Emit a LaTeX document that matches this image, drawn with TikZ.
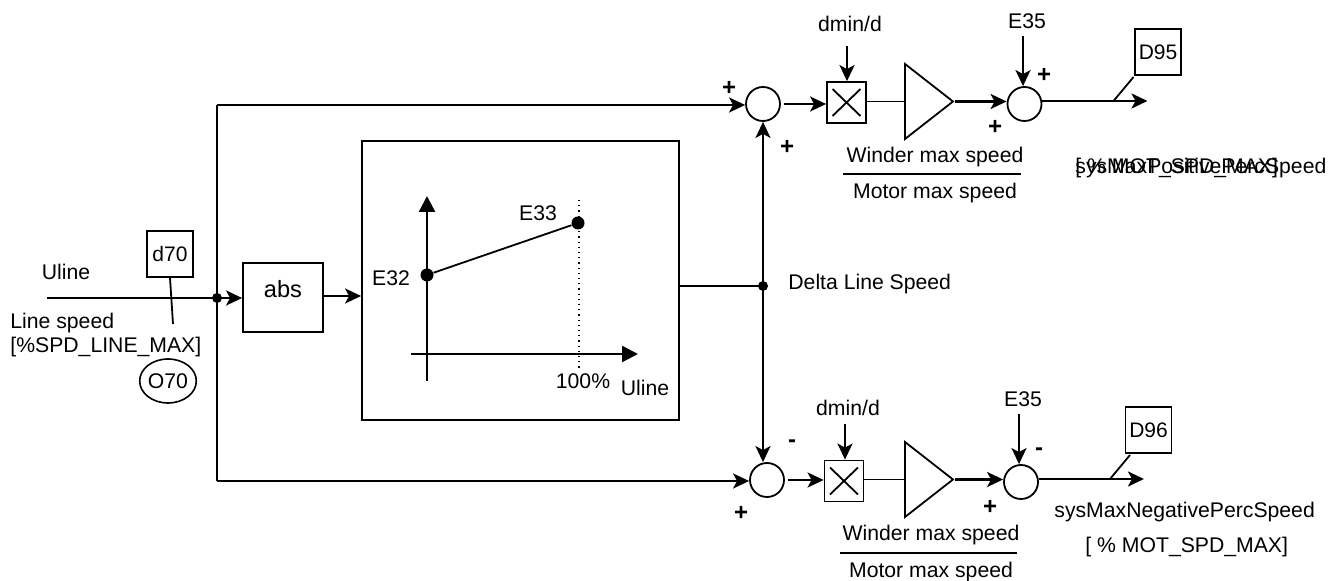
\documentclass[tikz,border=0pt]{standalone}
\usepackage{fontspec}
\setmainfont{Liberation Sans}
\usetikzlibrary{arrows.meta, calc, shapes.geometric}

\tikzset{
  sig/.style={line width=1.2pt, -{Stealth[length=8pt, width=7.5pt, inset=2pt]}},
  wire/.style={line width=0.9pt},
  axis/.style={line width=1.2pt, -{Triangle[length=8pt, width=8pt]}},
  lbl/.style={inner sep=0pt, font=\fontsize{10.6}{12}\selectfont},
  regbox/.style={draw, line width=0.8pt, inner sep=0pt, minimum width=23pt, minimum height=23pt, font=\fontsize{10.5}{12}\selectfont},
  sumnode/.style={draw, circle, line width=0.9pt, inner sep=0pt, minimum size=17pt},
  mulbox/.style={draw, line width=0.9pt, inner sep=0pt, minimum width=19.5pt, minimum height=20.5pt},
  dot/.style={fill, circle, inner sep=0pt, minimum size=#1}
}

\begin{document}
\begin{tikzpicture}[x=0.5pt, y=-0.5pt]
    \useasboundingbox (0,0) rectangle (1328,581);

    % Input side
    \node[lbl] (ulineIn) at (66,272) {Uline};
    \node[regbox] (dSeventy) at (170,254) {d70};
    \node[lbl, anchor=west] (lineSpeed) at (10,323) {Line speed};
    \node[lbl, anchor=west] (lineMax) at (10,347) {[\%SPD\_LINE\_MAX]};
    \node[draw, ellipse, line width=0.8pt, lbl, minimum width=27pt, minimum height=22pt] (oSeventy) at (168,381) {O70};
    \coordinate (inStart) at (47,298);
    \coordinate (tickEnd) at (173,324);
    \node[dot=5pt] (split) at (217,298) {};
    \node[draw, line width=0.9pt, minimum width=40pt, minimum height=34.5pt, inner sep=0pt] (absBox) at (283,297.5) {};
    \node[lbl, font=\fontsize{11.8}{13}\selectfont] (absText) at (283,289) {abs};
    \draw[wire] (dSeventy.south) -- (tickEnd);
    \draw[line width=1.2pt] (inStart) -- (split.center);
    \draw[sig] (split.center) -- (absBox.west |- split);

    % Limit curve
    \node[draw, line width=0.9pt, minimum width=158.5pt, minimum height=139.5pt, inner sep=0pt] (curveBox) at (520.5,280.5) {};
    \coordinate (absOut) at (323,296);
    \draw[sig] (absOut) -- (curveBox.west |- absOut);
    \coordinate (yLow) at (427,381);
    \coordinate (yHigh) at (427,196);
    \coordinate (xLow) at (411,354);
    \coordinate (xHigh) at (638,354);
    \draw[axis] (yLow) -- (yHigh);
    \draw[axis] (xLow) -- (xHigh);
    \node[dot=6.5pt] (pointLow) at (427,275) {};
    \node[dot=6.5pt] (pointHigh) at (578,223) {};
    \coordinate (dotTop) at (579,200);
    \coordinate (dotEnd) at (579,370);
    \draw[wire] (pointLow) -- (pointHigh);
    \draw[dotted, line width=0.6pt] (dotTop) -- (dotEnd);
    \node[lbl] (labelHigh) at (538,213) {E33};
    \node[lbl] (labelLow) at (391,278) {E32};
    \node[lbl] (labelFull) at (583,381) {100\%};
    \node[lbl] (labelUline) at (645,388) {Uline};

    % Delta line speed
    \node[dot=5pt] (delta) at (763,286) {};
    \node[lbl, anchor=west] (deltaText) at (788,284) {Delta Line Speed};
    \draw[wire] (curveBox.east |- delta) -- (delta.center);

    % The two branches
    \foreach \n/\sx/\sy/\mx/\my/\tx/\ty/\ex/\ey/\dx/\dy/\regname in {
        A/763/104/846.5/102.5/905/101.5/1024.5/104/1158/52/D95,
        B/767/480/844/481/905/479.5/1021/482/1148.5/430/D96} {
      \node[sumnode] (sumIn\n) at (\sx,\sy) {};
      \node[mulbox] (mul\n) at (\mx,\my) {};
      \draw[wire] ($(mul\n.north west)+(6.5,8)$) -- ($(mul\n.south east)+(-6.5,-8)$);
      \draw[wire] ($(mul\n.north east)+(-6.5,8)$) -- ($(mul\n.south west)+(6.5,-8)$);
      \coordinate (ampIn\n) at (\tx,\ty);
      \coordinate (ampTop\n) at (\tx,\ty-37.5);
      \coordinate (ampBot\n) at (\tx,\ty+37.5);
      \coordinate (ampTip\n) at (\tx+48,\ty);
      \draw[wire] (ampTop\n) -- (ampBot\n) -- (ampTip\n) -- cycle;
      \draw[wire] (mul\n.east |- ampIn\n) -- (ampIn\n);
      \node[sumnode] (sumOut\n) at (\ex,\ey) {};
      \draw[sig] ($(sumIn\n.east)+(3,0)$) -- (mul\n.west |- sumIn\n);
      \draw[sig] ($(ampTip\n)+(2,0)$) -- (ampTip\n -| sumOut\n.west);
      \node[regbox] (reg\n) at (\dx,\dy) {\regname};
      \coordinate (outEnd\n) at (\ex+123,\ey-3);
      \coordinate (tickFoot\n) at (\ex+89,\ey-3);
      \coordinate (tickTop\n) at (\ex+109,\ey-27);
      \draw[sig] (sumOut\n.east |- outEnd\n) -- (outEnd\n);
      \draw[wire] (tickFoot\n) -- (tickTop\n);
    }

    % Bus lines into the first summing points
    \coordinate (busTop) at (217,105);
    \coordinate (busBot) at (217,481);
    \draw[wire] (busTop) -- (busBot);
    \draw[sig] (busTop) -- (sumInA.west |- busTop);
    \draw[sig] (busBot) -- (sumInB.west |- busBot);
    \draw[sig] (delta.center) -- (sumInA.south);
    \draw[sig] (delta.center) -- (sumInB.north -| delta);

    % Inputs from above
    \foreach \n/\txt/\lx/\ly/\ax/\ya/\tgt in {
        a/dmin\slash d/850/24/847/46/mulA.north,
        b/E35/1027/21/1023/36/sumOutA.north,
        c/dmin\slash d/848/408/845/424/mulB.north,
        d/E35/1023/399/1019/414/sumOutB.north} {
      \node[lbl] (top\n) at (\lx,\ly) {\txt};
      \coordinate (topStart\n) at (\ax,\ya);
      \draw[sig] (topStart\n) -- (topStart\n |- \tgt);
    }

    % Ratio labels
    \foreach \n/\x/\yw/\yr/\ym/\xa/\xb in {A/935/157/174/193/843/1021, B/931/535/553/572/840/1017} {
      \node[lbl] (winder\n) at (\x,\yw) {Winder max speed};
      \node[lbl] (motor\n) at (\x,\ym) {Motor max speed};
      \coordinate (ruleL\n) at (\xa,\yr);
      \coordinate (ruleR\n) at (\xb,\yr);
      \draw[wire] (ruleL\n) -- (ruleR\n);
    }

    % Signs
    \foreach \i/\s/\x/\y in {1/+/729/88, 2/+/787/147, 3/+/1044/75, 4/+/995/127, 5/-/792/444, 6/+/741/513, 7/-/1039/452, 8/+/990/507} {
      \node[lbl, font=\fontsize{12}{13}\selectfont\bfseries] (sign\i) at (\x,\y) {\s};
    }

    % Output texts
    \node[lbl, anchor=west] (posName) at (1075,168) {sysMaxPositivePercSpeed};
    \node[lbl, anchor=west] (posUnit) at (1075,168) {[ \% MOT\_SPD\_MAX]};
    \node[lbl, anchor=west] (negName) at (1054,512) {sysMaxNegativePercSpeed};
    \node[lbl, anchor=west] (negUnit) at (1085,547) {[ \% MOT\_SPD\_MAX]};
  \end{tikzpicture}
\end{document}
